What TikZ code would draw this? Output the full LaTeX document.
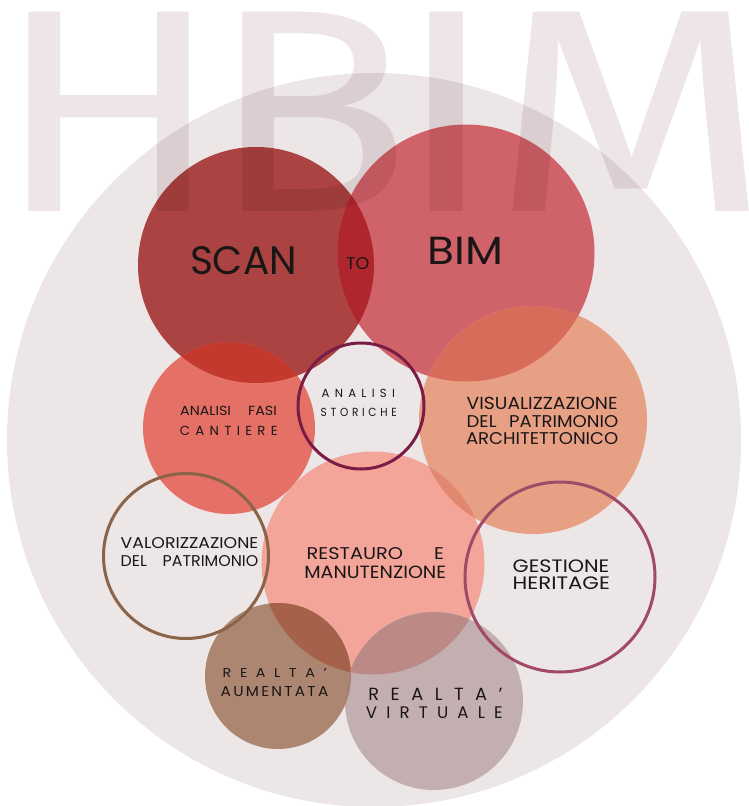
\documentclass[tikz,border=0pt]{standalone}
\usepackage{fontspec}
\usepackage{graphicx}
\newfontfamily\wmfont{Fira Sans}
\newfontfamily\labfont{Poppins}
\definecolor{bgc}{RGB}{236,230,231}
\definecolor{wmc}{RGB}{237,229,230}
\definecolor{scanc}{RGB}{171,67,67}
\definecolor{bimc}{RGB}{208,98,106}
\definecolor{fasic}{RGB}{229,112,102}
\definecolor{visc}{RGB}{232,160,133}
\definecolor{resc}{RGB}{243,165,154}
\definecolor{aumc}{RGB}{173,134,114}
\definecolor{virc}{RGB}{195,175,175}
\definecolor{ovsb}{RGB}{176,38,46}
\definecolor{ovsf}{RGB}{196,57,46}
\definecolor{ovbv}{RGB}{216,108,90}
\definecolor{ovrv}{RGB}{226,135,112}
\definecolor{ovra}{RGB}{165,97,74}
\definecolor{ovrvi}{RGB}{187,138,134}
\definecolor{ovav}{RGB}{168,128,116}
\definecolor{storc}{RGB}{123,28,70}
\definecolor{valc}{RGB}{139,99,71}
\definecolor{gesc}{RGB}{161,74,104}
\definecolor{ink}{RGB}{26,22,22}

\ExplSyntaxOn
\NewDocumentCommand\trk{mm}{
  \bool_set_true:N \l_tmpa_bool
  \tl_map_inline:nn {#2}
    { \bool_if:NTF \l_tmpa_bool { \bool_set_false:N \l_tmpa_bool } { \hspace{#1} } ##1 }
}
\ExplSyntaxOff

\tikzset{
  disc/.style={circle, inner sep=0pt, outer sep=0pt, minimum size=#1},
  ring/.style={circle, inner sep=0pt, outer sep=0pt, minimum size=#1, line width=3pt},
  lbl/.style={anchor=base, inner sep=0pt, outer sep=0pt, text=ink, font=\labfont},
  wm/.style={anchor=base west, inner sep=0pt, outer sep=0pt, text=wmc, font=\wmfont},
}
\newcommand\tline[6]{\node[lbl] (#1) at (#2,#3) {\resizebox{#4pt}{#5pt}{#6}};}
\newcommand\lens[5]{\begin{scope}\clip (#1.center) circle[radius=#2pt];
  \fill[#5] (#3.center) circle[radius=#4pt];\end{scope}}

\begin{document}
\begin{tikzpicture}[x=1pt,y=-1pt]
\useasboundingbox (0,0) rectangle (748,806);
\fill[white] (0,0) rectangle (748,806);

\node[disc=734pt, fill=bgc] (big) at (374,440) {};

\node[disc=236pt, fill=scanc] (scan) at (256,265) {};
\node[disc=257pt, fill=bimc] (bim) at (466,253) {};
\lens{scan}{118}{bim}{128.5}{ovsb}
\node[disc=172pt, fill=fasic] (fasi) at (229,428) {};
\lens{scan}{118}{fasi}{86}{ovsf}
\node[disc=228pt, fill=visc] (vis) at (533,420) {};
\lens{bim}{128.5}{vis}{114}{ovbv}
\node[disc=223pt, fill=resc] (res) at (373,563) {};
\lens{res}{111.5}{vis}{114}{ovrv}
\node[disc=146pt, fill=aumc] (aum) at (278,676) {};
\lens{res}{111.5}{aum}{73}{ovra}
\node[disc=178pt, fill=virc] (vir) at (434,701) {};
\lens{res}{111.5}{vir}{89}{ovrvi}
\lens{aum}{73}{vir}{89}{ovav}

\node[ring=126pt, draw=storc] (sto) at (361,406) {};
\node[ring=165pt, draw=valc] (val) at (186,556) {};
\node[ring=190pt, draw=gesc] (ges) at (560,577) {};

\tline{scan-t}{243.5}{274}{107}{28}{SCAN}
\tline{to-t}{357.7}{269.3}{23.3}{12}{TO}
\tline{bim-t}{465.5}{264}{75.6}{27.3}{BIM}
\tline{fasi-t1}{228.5}{415.3}{96.7}{9.3}{ANALISI\hspace{1.2em}FASI}
\tline{fasi-t2}{228.8}{435}{97.7}{9.3}{\trk{0.4em}{CANTIERE}}
\tline{sto-t1}{358.3}{397}{73.3}{8.3}{\trk{0.45em}{ANALISI}}
\tline{sto-t2}{358.7}{416}{76}{8.3}{\trk{0.35em}{STORICHE}}
\tline{vis-t1}{542.2}{409.3}{151}{12.3}{VISUALIZZAZIONE}
\tline{vis-t2}{542.5}{427}{151.6}{12}{DEL\hspace{0.7em}PATRIMONIO}
\tline{vis-t3}{542.2}{444.3}{152.3}{12}{ARCHITETTONICO}
\tline{val-t1}{189.5}{548.3}{137.6}{11}{VALORIZZAZIONE}
\tline{val-t2}{189.5}{566.7}{137.6}{11}{DEL\hspace{1em}PATRIMONIO}
\tline{res-t1}{375.3}{559.3}{137.3}{12}{RESTAURO\hspace{1.6em}E}
\tline{res-t2}{375.2}{578.3}{141.7}{12.5}{MANUTENZIONE}
\tline{ges-t1}{561}{572.7}{96.7}{12.7}{GESTIONE}
\tline{ges-t2}{561.3}{589.3}{97.3}{12.7}{HERITAGE}
\tline{aum-t1}{274.7}{677.3}{104}{9}{\trk{0.6em}{REALTA’}}
\tline{aum-t2}{274.5}{696.7}{107.6}{10}{\trk{0.15em}{AUMENTATA}}
\tline{vir-t1}{435.5}{700}{134.3}{12.3}{\trk{0.65em}{REALTA’}}
\tline{vir-t2}{434.3}{718.3}{136.7}{11.7}{\trk{0.55em}{VIRTUALE}}

\begin{scope}[blend mode=multiply]
\node[wm] (hbim-h) at (-4.9,211) {\resizebox{227pt}{199pt}{H}};
\node[wm] (hbim-b) at (209.4,211) {\resizebox{202pt}{199pt}{B}};
\node[wm] (hbim-i) at (394.2,211) {\resizebox{104pt}{199pt}{I}};
\node[wm] (hbim-m) at (490,211) {\resizebox{280pt}{199pt}{M}};
\end{scope}
\end{tikzpicture}
\end{document}
